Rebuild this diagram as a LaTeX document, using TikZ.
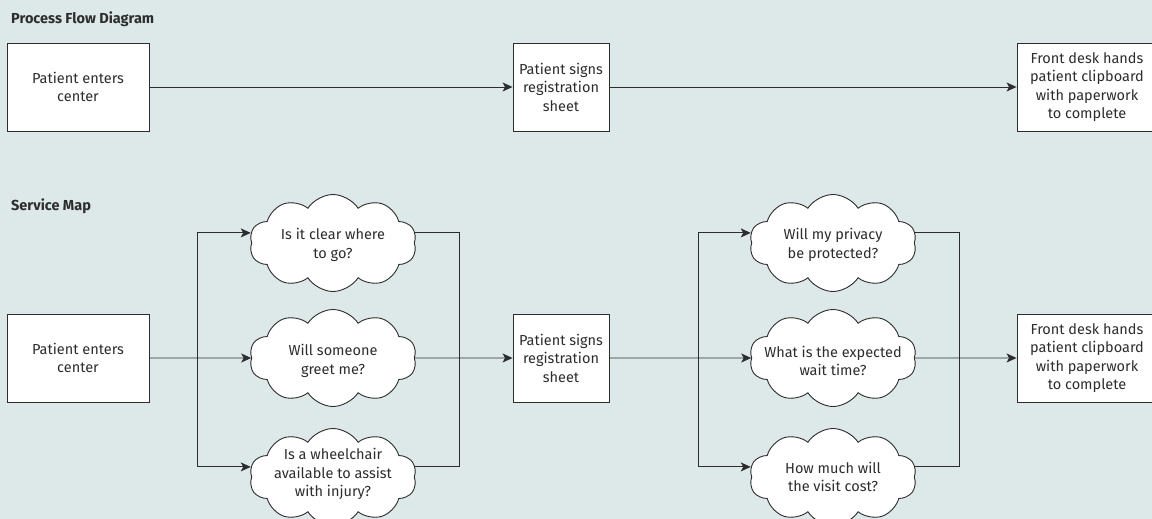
\documentclass[tikz,border=0pt]{standalone}
\usepackage{fontspec}
\setmainfont{Fira Sans}
\usetikzlibrary{shapes.symbols,arrows.meta,calc}
\definecolor{bg}{RGB}{221,232,232}
\definecolor{ink}{RGB}{45,45,45}
\begin{document}
\begin{tikzpicture}[x=1pt,y=-1pt,
  font=\fontsize{14.5}{18.5}\selectfont,
  title/.style={anchor=west,font=\bfseries\fontsize{14.5}{16}\selectfont,text=ink,inner sep=0pt},
  stepbox/.style={draw=ink,fill=white,line width=0.9pt,align=center,text=ink,inner sep=0pt,minimum height=88},
  thought/.style={cloud,cloud puffs=10,cloud puff arc=115,cloud ignores aspect,draw=ink,fill=white,line width=0.9pt,minimum width=167,minimum height=97,inner sep=0pt},
  qtext/.style={align=center,text=ink,inner sep=0pt},
  conn/.style={draw=ink,line width=0.9pt},
  arr/.style={conn,-{Stealth[length=10pt,width=9pt,inset=2.5pt]}}
]
\fill[bg] (0,0) rectangle (1152,519);
\useasboundingbox (0,0) rectangle (1152,519);

\node[title] (t1) at (11,19) {Process Flow Diagram};
\node[title] (t2) at (11,206) {Service Map};

% top row
\node[stepbox,minimum width=142] (a1) at (78,87) {Patient enters\\center};
\node[stepbox,minimum width=96] (a2) at (561,87) {Patient signs\\registration\\sheet};
\node[stepbox,minimum width=140] (a3) at (1087,87) {Front desk hands\\patient clipboard\\with paperwork\\to complete};
\draw[arr] (a1.east) -- (a2.west);
\draw[arr] (a2.east) -- (a3.west);

% bottom row
\node[stepbox,minimum width=142] (b1) at (78,358) {Patient enters\\center};
\node[stepbox,minimum width=96] (b2) at (561,358) {Patient signs\\registration\\sheet};
\node[stepbox,minimum width=140] (b3) at (1087,358) {Front desk hands\\patient clipboard\\with paperwork\\to complete};

\node[thought] (c1) at (333,243) {};
\node[thought] (c2) at (333,358) {};
\node[thought] (c3) at (333,477) {};
\node[thought] (d1) at (833,243) {};
\node[thought] (d2) at (833,358) {};
\node[thought] (d3) at (833,477) {};
\node[qtext] (c1t) at (333,245) {Is it clear where\\to go?};
\node[qtext] (c2t) at (333,361) {Will someone\\greet me?};
\node[qtext] (c3t) at (333,474) {Is a wheelchair\\available to assist\\with injury?};
\node[qtext] (d1t) at (833,245) {Will my privacy\\be protected?};
\node[qtext] (d2t) at (833,361) {What is the expected\\wait time?};
\node[qtext] (d3t) at (833,477) {How much will\\the visit cost?};

\coordinate (sl) at (197,358);
\coordinate (sr) at (459,358);
\coordinate (tl) at (698,358);
\coordinate (tr) at (959,358);

% left branch
\draw[arr] (b1.east) -- (c2.west);
\draw[arr] (sl |- c3.173) -- (sl |- c1.173) -- (c1.173);
\draw[arr] (sl |- c3.173) -- (c3.173);
\draw[conn] (c1.7) -- (c1.7 -| sr) -- (c3.7 -| sr) -- (c3.7);
\draw[arr] (c2.east) -- (b2.west);

% right branch
\draw[arr] (b2.east) -- (d2.west);
\draw[arr] (tl |- d3.173) -- (tl |- d1.173) -- (d1.173);
\draw[arr] (tl |- d3.173) -- (d3.173);
\draw[conn] (d1.7) -- (d1.7 -| tr) -- (d3.7 -| tr) -- (d3.7);
\draw[arr] (d2.east) -- (b3.west);
\end{tikzpicture}
\end{document}
